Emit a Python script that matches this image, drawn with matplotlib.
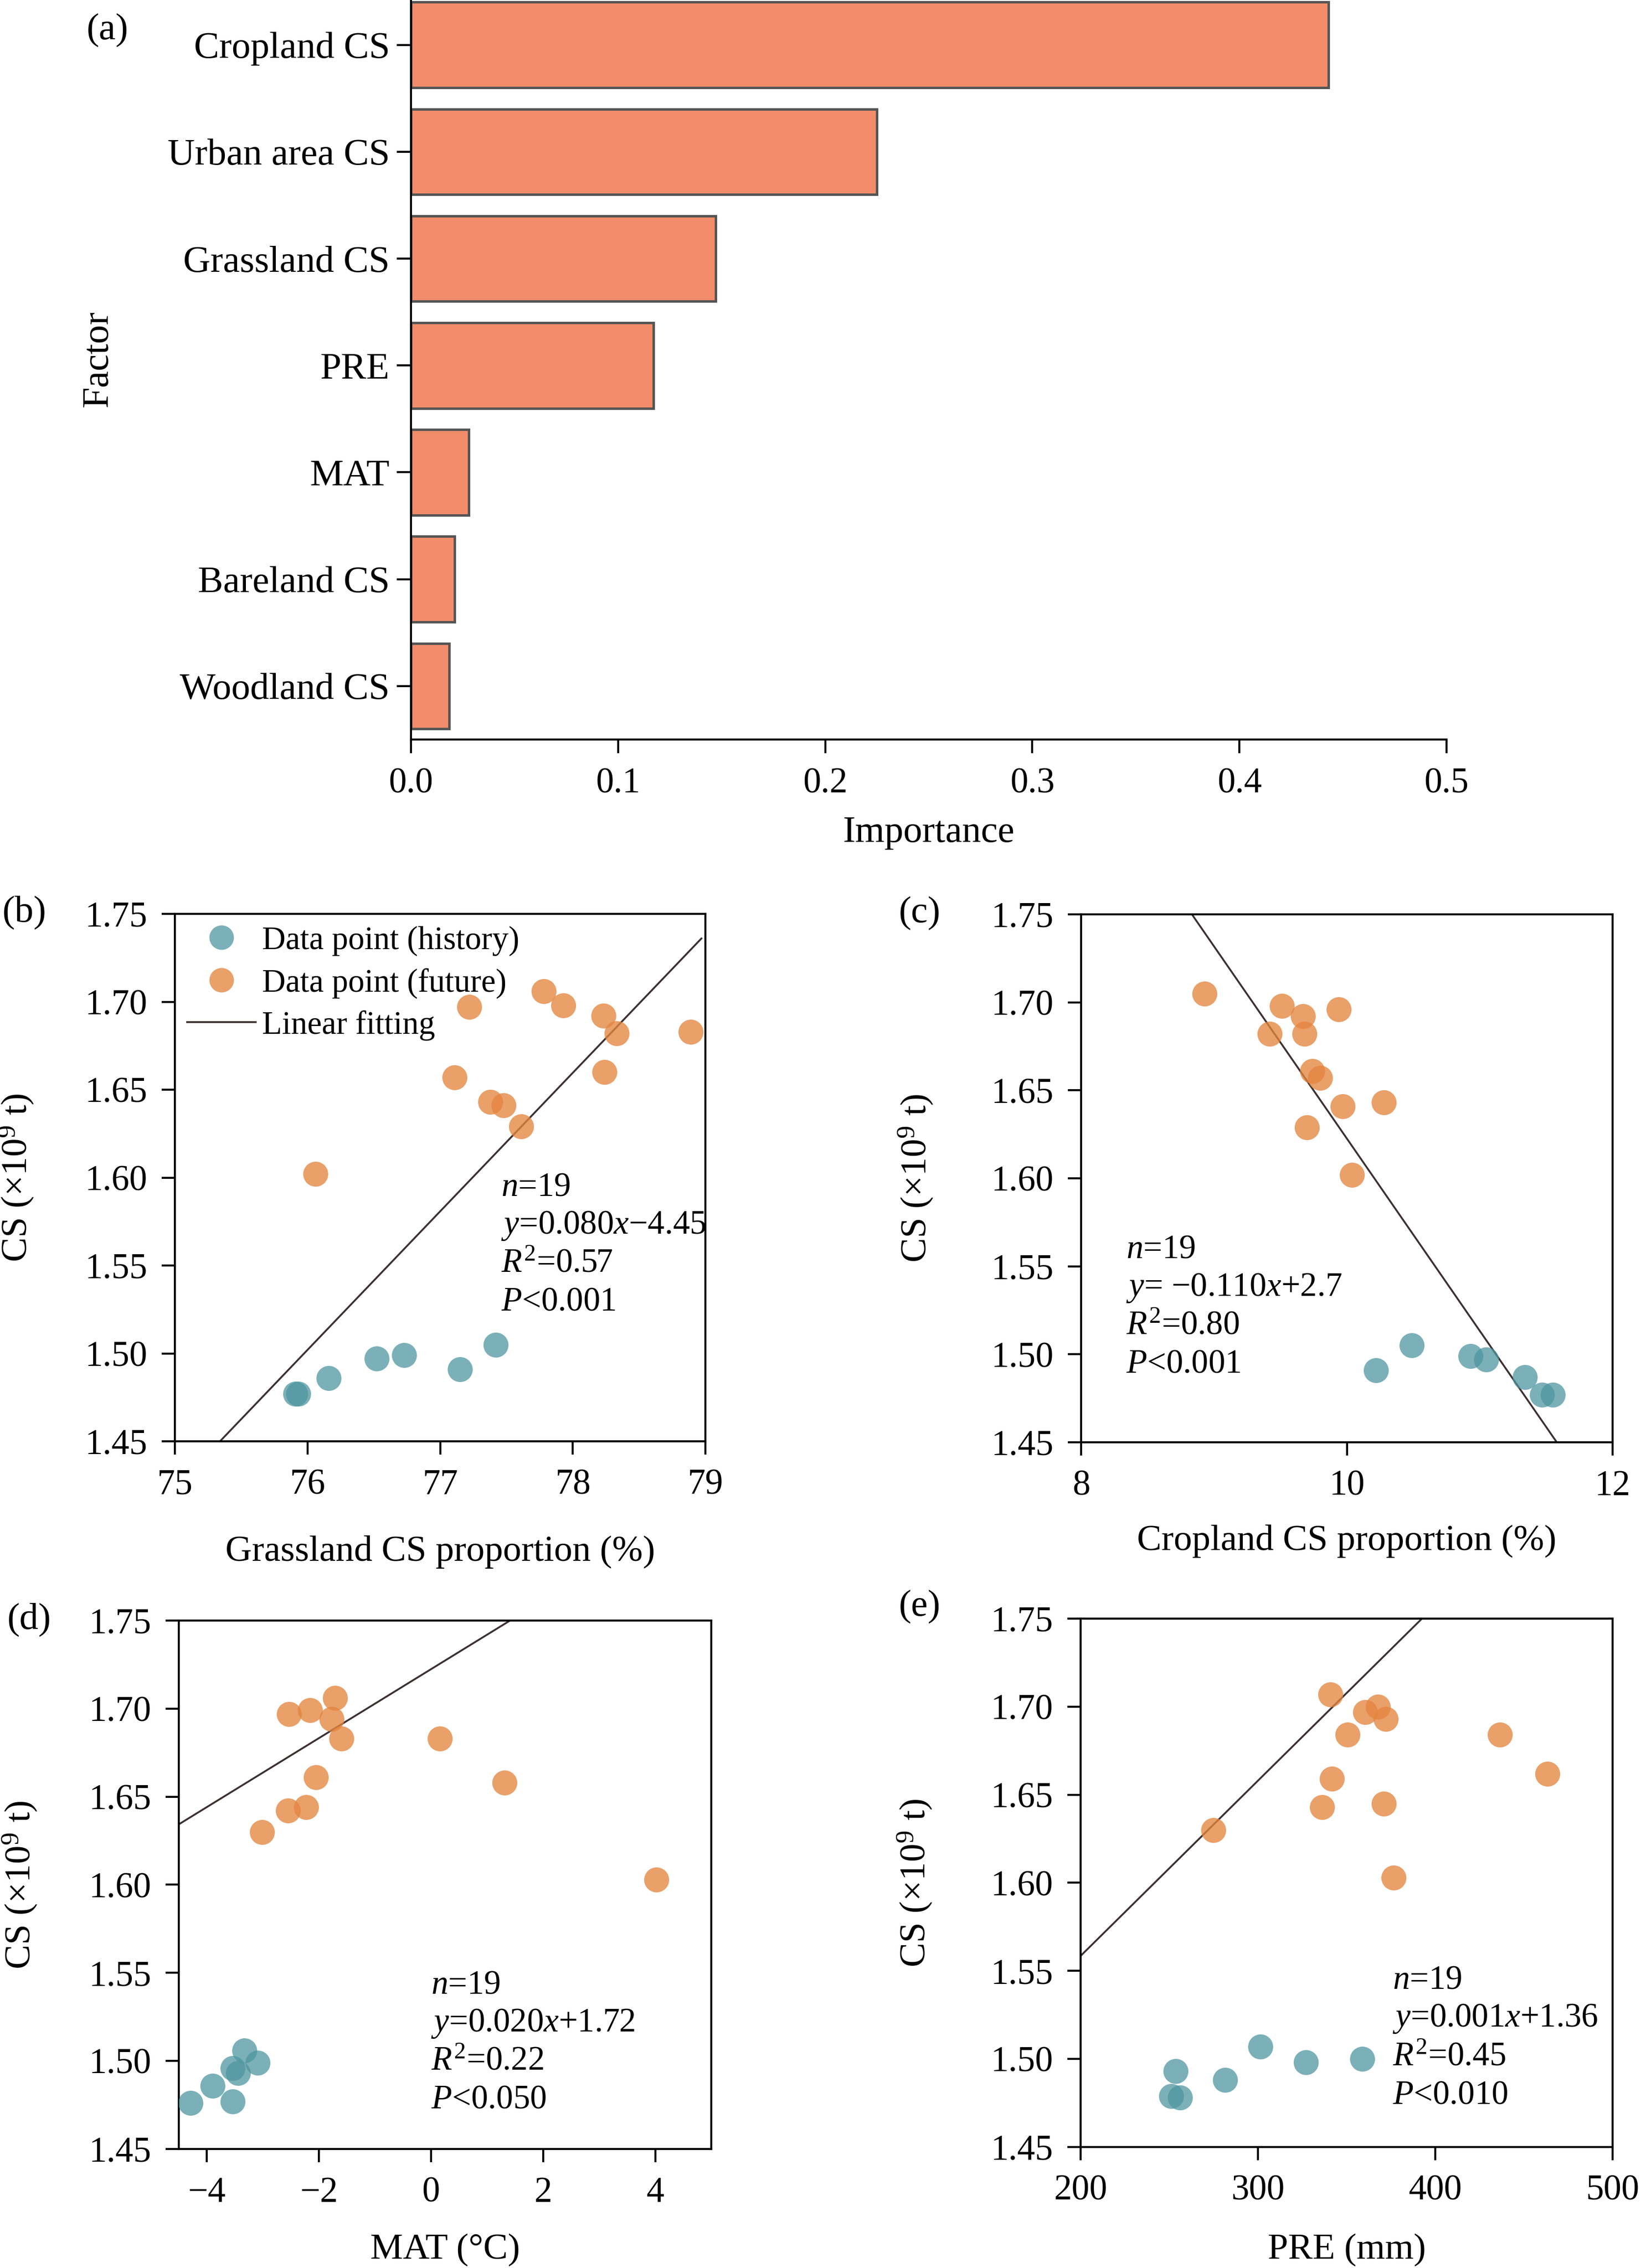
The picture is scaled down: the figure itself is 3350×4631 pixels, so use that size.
import matplotlib
matplotlib.use('Agg')
import matplotlib.pyplot as plt
from matplotlib.lines import Line2D

plt.rcParams['font.family'] = ['Liberation Serif', 'DejaVu Serif']
plt.rcParams['mathtext.fontset'] = 'custom'
plt.rcParams['mathtext.rm'] = 'Liberation Serif'
plt.rcParams['mathtext.it'] = 'Liberation Serif:italic'
plt.rcParams['axes.unicode_minus'] = True

# ---- data: panel (a) ----
factors = ['Cropland CS', 'Urban area CS', 'Grassland CS', 'PRE', 'MAT',
           'Bareland CS', 'Woodland CS']
importance = [0.443, 0.225, 0.147, 0.117, 0.028, 0.021, 0.0185]

# ---- data: panel (b) grassland CS proportion ----
b_hist_x = [75.91, 75.93, 76.16, 76.52, 76.73, 77.15, 77.42]
b_hist_y = [1.477, 1.477, 1.486, 1.497, 1.499, 1.491, 1.505]
b_fut_x = [77.22, 77.78, 77.93, 78.23, 78.33, 78.89, 77.11, 78.24, 77.38,
           77.48, 77.61, 76.06]
b_fut_y = [1.697, 1.706, 1.698, 1.692, 1.682, 1.683, 1.657, 1.660, 1.643,
           1.641, 1.629, 1.602]
b_fit_x = [75.34, 78.97]
b_fit_y = [1.45, 1.736]

# ---- data: panel (c) cropland CS proportion ----
c_hist_x = [10.22, 10.49, 10.93, 11.05, 11.34, 11.47, 11.55]
c_hist_y = [1.491, 1.505, 1.499, 1.497, 1.487, 1.477, 1.477]
c_fut_x = [8.93, 9.51, 9.67, 9.94, 9.42, 9.68, 9.74, 9.80, 9.97, 10.28,
           9.70, 10.04]
c_fut_y = [1.705, 1.698, 1.692, 1.696, 1.682, 1.682, 1.661, 1.657, 1.641,
           1.643, 1.629, 1.602]
c_fit_x = [8.834, 11.58]
c_fit_y = [1.75, 1.45]

# ---- data: panel (d) MAT ----
d_hist_x = [-3.33, -3.09, -3.54, -3.44, -3.90, -3.54, -4.29]
d_hist_y = [1.506, 1.499, 1.496, 1.493, 1.486, 1.477, 1.476]
d_fut_x = [-1.71, -2.53, -2.16, -1.77, -1.60, 0.155, -2.05, -2.55, -2.23,
           -3.01, 1.31, 4.02]
d_fut_y = [1.706, 1.697, 1.699, 1.694, 1.683, 1.683, 1.661, 1.642, 1.644,
           1.630, 1.658, 1.603]
d_fit_x = [-4.48, 1.41]
d_fit_y = [1.6347, 1.75]

# ---- data: panel (e) PRE ----
e_hist_x = [301.5, 327.2, 358.8, 253.6, 281.6, 251.1, 256.2]
e_hist_y = [1.507, 1.498, 1.500, 1.493, 1.488, 1.479, 1.478]
e_fut_x = [341.0, 360.6, 367.7, 372.2, 350.5, 436.4, 463.3, 341.6, 336.3,
           371.1, 274.8, 376.6]
e_fut_y = [1.707, 1.697, 1.700, 1.693, 1.684, 1.684, 1.662, 1.659, 1.643,
           1.645, 1.630, 1.603]
e_fit_x = [200, 392.5]
e_fit_y = [1.5585, 1.75]

stats_b = ['$n$=19', '$y$=0.080$x$−4.45', r'$R^{\mathrm{2}}$=0.57', '$P$<0.001']
stats_c = ['$n$=19', '$y$= −0.110$x$+2.7', r'$R^{\mathrm{2}}$=0.80', '$P$<0.001']
stats_d = ['$n$=19', '$y$=0.020$x$+1.72', r'$R^{\mathrm{2}}$=0.22', '$P$<0.050']
stats_e = ['$n$=19', '$y$=0.001$x$+1.36', r'$R^{\mathrm{2}}$=0.45', '$P$<0.010']

yticks_cs = [1.45, 1.50, 1.55, 1.60, 1.65, 1.70, 1.75]
ylabel_cs = r'CS (×10$^{\mathrm{9}}$ t)'

bar_color = '#F28C6A'
hist_color = '#4F96A0'
fut_color = '#E4853F'
fit_color = '#3d3030'

W, H = 3350, 4631
fig = plt.figure(figsize=(W / 300, H / 300), dpi=300)


def rect(l, t, r, b):
    return [l / W, 1 - b / H, (r - l) / W, (b - t) / H]


# ---------------- panel (a) ----------------
ax = fig.add_axes(rect(839, 0, 2953, 1510))
ypos = list(range(len(factors)))[::-1]
ax.barh(ypos, importance, height=0.8, color=bar_color,
        edgecolor='#555555', linewidth=1.2)
ax.set_yticks(ypos)
ax.set_yticklabels(factors, fontsize=18.5)
ax.set_ylim(-0.5, 6.42)
ax.set_xlim(0, 0.5)
ax.set_xticks([0.0, 0.1, 0.2, 0.3, 0.4, 0.5])
ax.set_xticklabels(['0.0', '0.1', '0.2', '0.3', '0.4', '0.5'], fontsize=17.5)
ax.spines['top'].set_visible(False)
ax.spines['right'].set_visible(False)
for s in ('left', 'bottom'):
    ax.spines[s].set_linewidth(1.0)
ax.tick_params(axis='y', direction='out', length=7, width=1.0, pad=3.4)
ax.tick_params(axis='x', direction='out', length=6.7, width=1.0, pad=7)
ax.set_xlabel('Importance', fontsize=18.5)
ax.xaxis.set_label_coords(0.5, -0.103)
ax.set_ylabel('Factor', fontsize=18.5)
ax.yaxis.set_label_coords(-0.2857, 0.515)


def scatter_panel(box, hx, hy, fx, fy, lx, ly, xlim, xticks, xlabel,
                  stats, sx, sy, ylab_x, xlab_y, legend=False):
    ax = fig.add_axes(rect(*box))
    ax.scatter(hx, hy, s=150, color=hist_color, alpha=0.75, linewidths=0,
               label='Data point (history)', zorder=3)
    ax.scatter(fx, fy, s=150, color=fut_color, alpha=0.78, linewidths=0,
               label='Data point (future)', zorder=3)
    ax.plot(lx, ly, color=fit_color, lw=0.9, label='Linear fitting', zorder=2)
    ax.set_xlim(*xlim)
    ax.set_ylim(1.45, 1.75)
    ax.set_xticks(xticks)
    ax.set_xticklabels([str(t) if t >= 0 else '−' + str(-t) for t in xticks],
                       fontsize=17.5)
    ax.set_yticks(yticks_cs)
    ax.set_yticklabels(['%.2f' % v for v in yticks_cs], fontsize=17.5)
    for s in ax.spines.values():
        s.set_linewidth(1.0)
    ax.tick_params(direction='out', length=6.5, width=1.0, pad=7,
                   top=False, right=False)
    ax.set_ylabel(ylabel_cs, fontsize=18)
    ax.yaxis.set_label_coords(ylab_x, 0.5)
    ax.set_xlabel(xlabel, fontsize=18)
    ax.xaxis.set_label_coords(0.5, xlab_y)
    for i, line in enumerate(stats):
        ax.text(sx, sy - i * 0.0724, line, transform=ax.transAxes,
                fontsize=16.5, ha='left', va='center')
    if legend:
        h1 = Line2D([], [], ls='none', marker='o', ms=12, color=hist_color,
                    alpha=0.75, mew=0)
        h2 = Line2D([], [], ls='none', marker='o', ms=12, color=fut_color,
                    alpha=0.78, mew=0)
        h3 = Line2D([], [], color=fit_color, lw=0.9)
        ax.legend([h1, h2, h3], ['Data point (history)', 'Data point (future)',
                                 'Linear fitting'],
                  loc='upper left', bbox_to_anchor=(0, 1), frameon=False,
                  fontsize=16, borderaxespad=0.1, borderpad=0.27,
                  labelspacing=0.36, handlelength=2.1, handletextpad=0.2)
    return ax


scatter_panel((357, 1866, 1440, 2943), b_hist_x, b_hist_y, b_fut_x, b_fut_y,
              b_fit_x, b_fit_y, (75, 79), [75, 76, 77, 78, 79],
              'Grassland CS proportion (%)', stats_b, 0.615, 0.481,
              -0.262, -0.178, legend=True)
scatter_panel((2207, 1867, 3292, 2945), c_hist_x, c_hist_y, c_fut_x, c_fut_y,
              c_fit_x, c_fit_y, (8, 12), [8, 10, 12],
              'Cropland CS proportion (%)', stats_c, 0.085, 0.365,
              -0.275, -0.156)
scatter_panel((365, 3309, 1452, 4388), d_hist_x, d_hist_y, d_fut_x, d_fut_y,
              d_fit_x, d_fit_y, (-4.5, 5.0), [-4, -2, 0, 2, 4],
              'MAT (°C)', stats_d, 0.474, 0.31,
              -0.262, -0.160)
scatter_panel((2206, 3305, 3292, 4384), e_hist_x, e_hist_y, e_fut_x, e_fut_y,
              e_fit_x, e_fit_y, (200, 500), [200, 300, 400, 500],
              'PRE (mm)', stats_e, 0.587, 0.315,
              -0.275, -0.164)

# panel letters
for lab, px, py in [('(a)', 177, 61), ('(b)', 5, 1863), ('(c)', 1835, 1864),
                    ('(d)', 15, 3307), ('(e)', 1835, 3280)]:
    fig.text(px / W, 1 - py / H, lab, fontsize=18.5, ha='left', va='center')

fig.savefig('out.png', dpi=300)
